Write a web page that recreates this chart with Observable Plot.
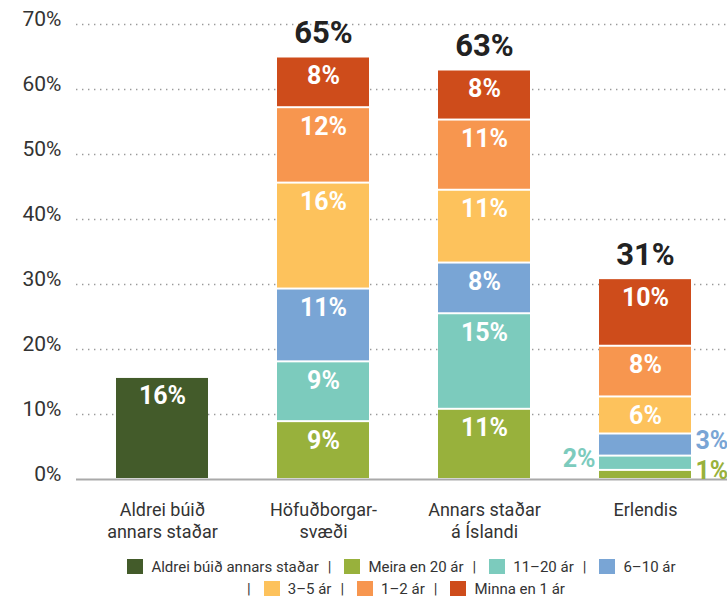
<!DOCTYPE html>
<html>
<head>
<meta charset="utf-8">
<script src="https://cdn.jsdelivr.net/npm/d3@7"></script>
<script src="https://cdn.jsdelivr.net/npm/@observablehq/plot@0.6"></script>
<style>
  body { margin: 0; background: #fff; font-family: Roboto, "Noto Sans", sans-serif; }
  #legend { box-sizing: border-box; width: 727px; padding-left: 76px; padding-top: 11px; text-align: center; font-size: 15px; line-height: 22px; color: #333; }
  #legend .sw { display: inline-block; width: 16px; height: 15px; margin-right: 8px; vertical-align: -2px; }
  #legend .sep { margin: 0 13px 0 9px; }
</style>
</head>
<body>
<div id="chart"></div>
<div id="legend"></div>
<script>
// ---- Data ----
const categories = ["Aldrei búið\nannars staðar", "Höfuðborgar-\nsvæði", "Annars staðar\ná Íslandi", "Erlendis"];
const series = ["Aldrei búið annars staðar", "Meira en 20 ár", "11–20 ár", "6–10 ár", "3–5 ár", "1–2 ár", "Minna en 1 ár"];
const colors = ["#435b2a", "#98b13c", "#7ccbbd", "#79a5d5", "#fdc25c", "#f7964f", "#ce4c1b"];
const aldreiValues = [15.7];                                  // Aldrei búið annars staðar
const hofudborgValues = [8.9, 9.2, 11.2, 16.3, 11.6, 7.8];    // Meira en 20 ár ... Minna en 1 ár
const annarsValues = [10.8, 14.7, 7.8, 11.2, 10.8, 7.7];
const erlendisValues = [1.4, 2.2, 3.4, 5.7, 7.8, 10.4];
const yTicks = [0, 10, 20, 30, 40, 50, 60, 70];
const leftOutsideSeries = ["11–20 ár"];
const legendRows = [[0, 1, 2, 3], [4, 5, 6]];

// ---- Build table ----
const rows = [];
rows.push({category: categories[0], series: series[0], value: aldreiValues[0]});
[hofudborgValues, annarsValues, erlendisValues].forEach((vals, ci) => {
  vals.forEach((v, si) => rows.push({category: categories[ci + 1], series: series[si + 1], value: v}));
});
const totals = categories.slice(1).map(c => ({
  category: c,
  total: d3.sum(rows.filter(r => r.category === c), r => r.value)
}));

// ---- Layout ----
const W = 727, H = 545, mL = 76, mR = 0, mT = 24, mB = 66;
const pIn = 0.4293, pOut = 0.234, align = 0.524;
const step = (W - mL - mR) / (categories.length - pIn + 2 * pOut);
const bw = step * (1 - pIn);
const labelFont = "Roboto, 'Noto Sans', sans-serif";

const chart = Plot.plot({
  width: W, height: H,
  marginLeft: mL, marginRight: mR, marginTop: mT, marginBottom: mB,
  style: {fontFamily: labelFont, background: "#fff"},
  x: {domain: categories, paddingInner: pIn, paddingOuter: pOut, align, label: null},
  y: {domain: [0, 70], label: null},
  color: {domain: series, range: colors},
  marks: [
    Plot.gridY(yTicks.slice(1), {stroke: "#9a9a9a", strokeOpacity: 1, strokeWidth: 1.4, strokeDasharray: "1.4,4.6"}),
    Plot.axisY(yTicks, {tickSize: 0, tickPadding: 15, fontSize: 21, dy: -5, fill: "#333", tickFormat: d => d + "%"}),
    Plot.axisX({tickSize: 0, tickPadding: 21, fontSize: 18, lineHeight: 1.22, fill: "#333"}),
    Plot.barY(rows, Plot.stackY({x: "category", y: "value", z: "series", fill: "series", insetTop: 1, insetBottom: 1})),
    Plot.ruleY([0], {stroke: "#a9a9a9", strokeWidth: 2}),
    Plot.text(rows, Plot.stackY2({
      x: "category", y: "value", z: "series",
      text: d => d.value >= 4 ? Math.round(d.value) + "%" : "",
      dy: 19, fill: "white", fontSize: 25, fontWeight: "bold"
    })),
    Plot.text(rows, Plot.stackY({
      x: "category", y: "value", z: "series",
      text: d => d.value < 4 && leftOutsideSeries.includes(d.series) ? Math.round(d.value) + "%" : "",
      fill: "series", textAnchor: "end", dx: -(bw / 2 + 4), dy: -4, fontSize: 25, fontWeight: "bold"
    })),
    Plot.text(rows, Plot.stackY({
      x: "category", y: "value", z: "series",
      text: d => d.value < 4 && !leftOutsideSeries.includes(d.series) ? Math.round(d.value) + "%" : "",
      fill: "series", textAnchor: "start", dx: bw / 2 + 4, dy: -4, fontSize: 25, fontWeight: "bold"
    })),
    Plot.text(totals, {
      x: "category", y: "total", text: d => Math.round(d.total) + "%",
      dy: -24, fill: "#222", fontSize: 31, fontWeight: "bold"
    })
  ]
});
document.getElementById("chart").appendChild(chart);

// ---- Legend ----
const legend = document.getElementById("legend");
legendRows.forEach((row) => {
  const line = document.createElement("div");
  row.forEach((si) => {
    if (si > 0) {
      const sep = document.createElement("span");
      sep.className = "sep";
      sep.textContent = "|";
      line.appendChild(sep);
    }
    const sw = document.createElement("span");
    sw.className = "sw";
    sw.style.background = colors[si];
    line.appendChild(sw);
    line.appendChild(document.createTextNode(series[si]));
  });
  legend.appendChild(line);
});
</script>
</body>
</html>
